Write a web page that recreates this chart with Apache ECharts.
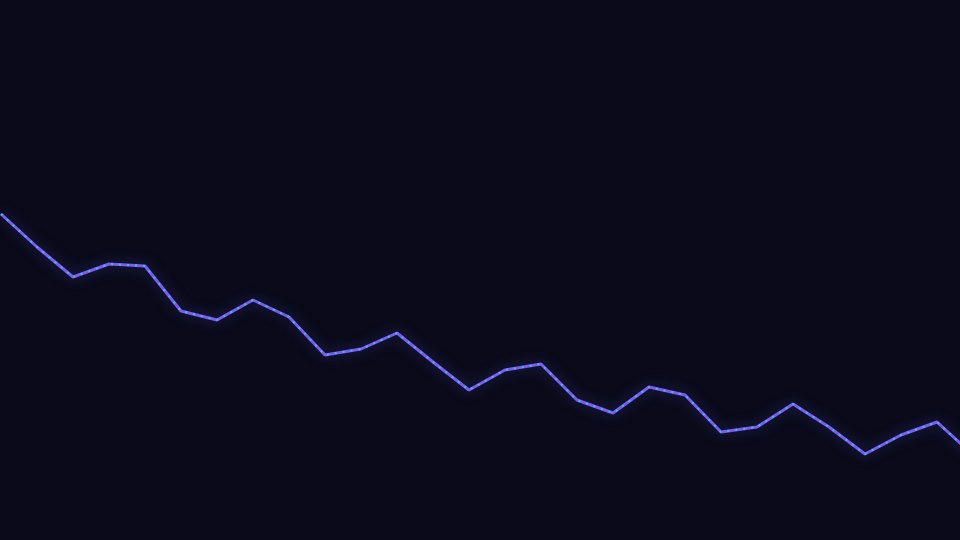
<!DOCTYPE html>
<html>
<head>
<meta charset="utf-8">
<script src="https://cdn.jsdelivr.net/npm/echarts@6/dist/echarts.min.js"></script>
<style>
  html, body { margin: 0; padding: 0; background: #0a0a1a; }
  #chart { width: 960px; height: 540px; }
</style>
</head>
<body>
<div id="chart"></div>
<script>
// values (higher = further up); last step runs past the right edge
const steps = [0, 1, 2, 3, 4, 5, 6, 7, 8, 9, 10, 11, 12, 13,
  14, 15, 16, 17, 18, 19, 20, 21, 22, 23, 24, 25, 26, 27];
const values = [326, 293, 263, 276, 274, 229, 220, 240, 223, 185, 191, 207, 178, 150,
  170, 176, 140, 127, 153, 145, 108, 113, 136, 113, 86, 105, 118, 85];

let myChart = echarts.init(document.getElementById('chart'));
let option = {
  backgroundColor: '#0a0a1a',
  animation: false,
  grid: { left: 1, right: 0, top: 0, bottom: 0 },
  xAxis: {
    type: 'value',
    min: 0,
    max: 959 / 36,
    show: false
  },
  yAxis: {
    type: 'value',
    min: 0,
    max: 540,
    show: false
  },
  series: [{
    name: 'glow',
    type: 'line',
    data: steps.map((s, i) => [s, values[i]]),
    symbol: 'none',
    lineStyle: {
      color: '#7b5cf0',
      width: 3,
      shadowBlur: 14,
      shadowColor: 'rgba(99, 102, 241, 0.45)'
    }
  }, {
    name: 'dots',
    type: 'line',
    data: steps.map((s, i) => [s, values[i]]),
    symbol: 'none',
    lineStyle: {
      color: '#38bdf8',
      width: 2,
      type: [2, 6],
      cap: 'butt'
    }
  }]
};
myChart.setOption(option);
</script>
</body>
</html>
